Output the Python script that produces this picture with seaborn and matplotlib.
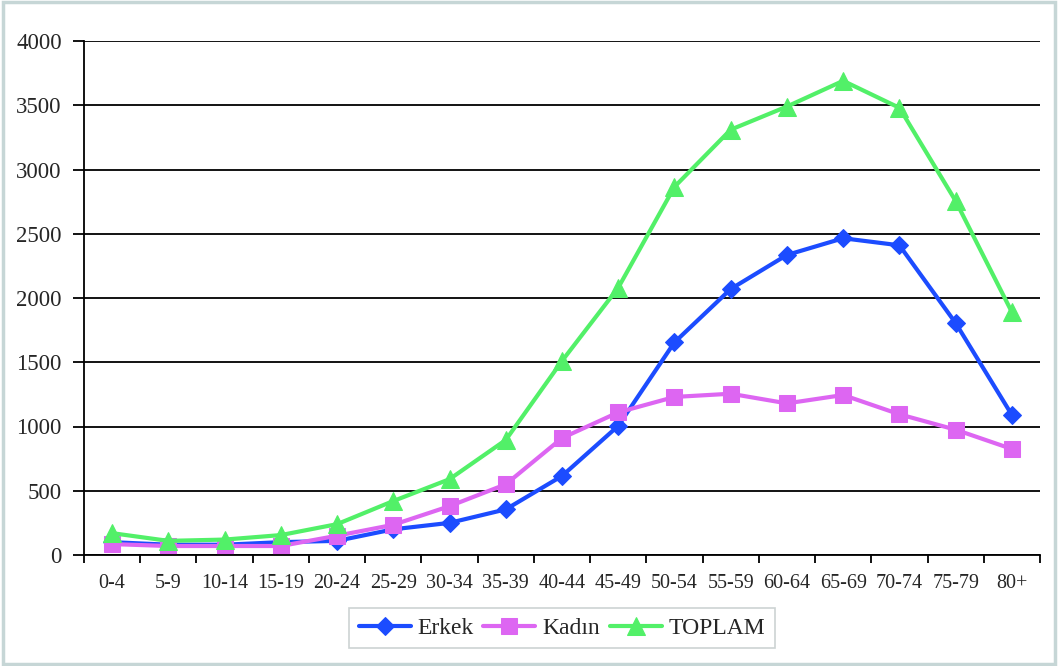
import matplotlib
matplotlib.use("Agg")
import matplotlib.pyplot as plt
import seaborn as sns
import pandas as pd
import numpy as np
from matplotlib.patches import Rectangle

age_groups = ["0-4", "5-9", "10-14", "15-19", "20-24", "25-29", "30-34", "35-39",
              "40-44", "45-49", "50-54", "55-59", "60-64", "65-69", "70-74", "75-79", "80+"]
erkek = [100, 80, 80, 100, 110, 200, 250, 355, 615, 1005, 1655, 2070, 2335, 2465, 2410, 1805, 1090]
kadin = [85, 70, 70, 70, 150, 235, 380, 550, 910, 1110, 1230, 1255, 1180, 1245, 1095, 975, 825]
toplam = [170, 110, 120, 155, 240, 420, 590, 895, 1510, 2080, 2865, 3310, 3490, 3690, 3480, 2755, 1890]

series_names = ["Erkek", "Kadın", "TOPLAM"]
series_values = [erkek, kadin, toplam]
colors = {"Erkek": "#1c4cff", "Kadın": "#dd66f2", "TOPLAM": "#52f068"}
markers = {"Erkek": "D", "Kadın": "s", "TOPLAM": "^"}
marker_sizes = {"Erkek": 9.5, "Kadın": 11, "TOPLAM": 12.5}

rows = []
for name, vals in zip(series_names, series_values):
    for i, v in enumerate(vals):
        rows.append({"pos": i, "age": age_groups[i], "value": v, "series": name})
df = pd.DataFrame(rows)

sns.set_theme(style="white")
plt.rcParams["font.family"] = ["Liberation Serif", "DejaVu Serif"]

W, H = 1058, 666
fig = plt.figure(figsize=(W / 100, H / 100), dpi=100)
ax = fig.add_axes([84 / W, 1 - 555 / H, (1040 - 84) / W, (555 - 41) / H])

for name in series_names:
    sub = df[df["series"] == name]
    sns.lineplot(data=sub, x="pos", y="value", ax=ax, color=colors[name],
                 marker=markers[name], markersize=marker_sizes[name],
                 markeredgecolor=colors[name], linewidth=3, label=name, sort=False)

ax.set_xlim(-0.5, len(age_groups) - 0.5)
ax.set_ylim(0, 4000)
ax.set_yticks(np.arange(0, 4001, 500))
ax.set_yticklabels([str(v) for v in range(0, 4001, 500)], fontsize=16.5)
ax.set_xticks(range(len(age_groups)))
ax.set_xticklabels(age_groups, fontsize=14.5)
ax.set_xticks(np.arange(-0.5, len(age_groups), 1.0), minor=True)
ax.tick_params(axis="x", which="major", bottom=False, length=0, pad=14)
ax.tick_params(axis="x", which="minor", bottom=True, length=6, width=1.3,
               color="black", direction="out")
ax.tick_params(axis="y", which="major", left=True, length=8, width=1.3,
               color="black", direction="out", pad=8)
ax.set_xlabel("")
ax.set_ylabel("")

ax.grid(axis="y", color="black", linewidth=1.3)
ax.grid(axis="x", visible=False)
ax.set_axisbelow(True)
for side in ["top", "right"]:
    ax.spines[side].set_visible(False)
for side in ["left", "bottom"]:
    ax.spines[side].set_color("black")
    ax.spines[side].set_linewidth(1.3)

leg = ax.legend(loc="upper center", bbox_to_anchor=(0.5, -0.103), ncol=3,
                frameon=True, fancybox=False, fontsize=17, handlelength=2.2,
                columnspacing=0.4, handletextpad=0.3, borderpad=0.4,
                borderaxespad=0)
leg.get_frame().set_edgecolor("#c0c8c8")
leg.get_frame().set_linewidth(1.2)

fig.patches.append(Rectangle((0.003, 0.003), 0.994, 0.994, transform=fig.transFigure,
                             fill=False, edgecolor="#c6d6d6", linewidth=2.5))

fig.savefig("out.png", dpi=100, facecolor="white")
